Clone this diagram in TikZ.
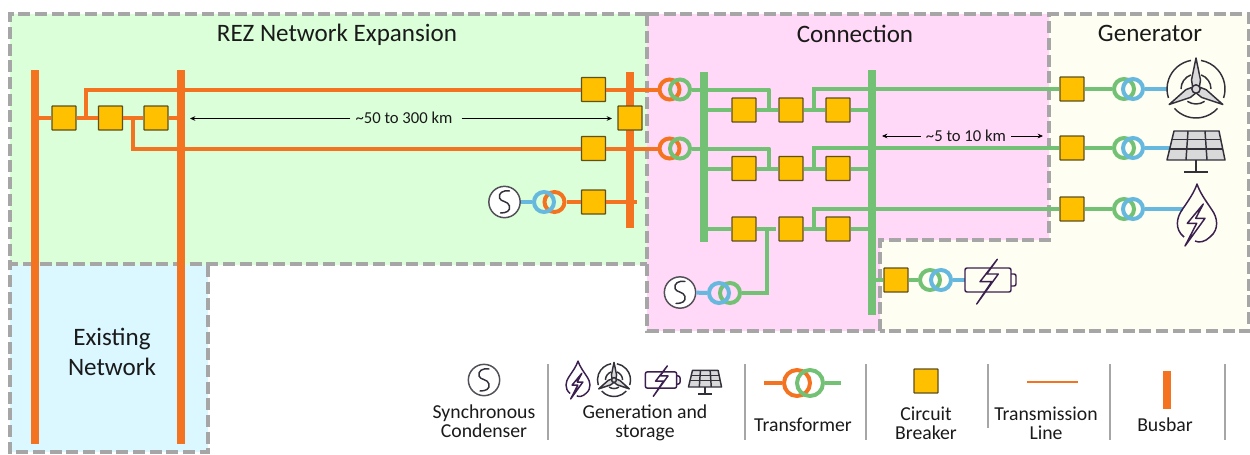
\documentclass[tikz,border=0pt]{standalone}
\usepackage{fontspec}
\setmainfont{Carlito}
\usetikzlibrary{arrows.meta}
\definecolor{orangeL}{HTML}{F47320}
\definecolor{greenL}{HTML}{72C174}
\definecolor{blueL}{HTML}{66B8DE}
\definecolor{cbfill}{HTML}{FFC000}
\definecolor{cbedge}{HTML}{5F5020}
\definecolor{rezbg}{HTML}{DBFFD9}
\definecolor{conbg}{HTML}{FFD9F7}
\definecolor{genbg}{HTML}{FEFFF2}
\definecolor{exbg}{HTML}{DBF7FF}
\definecolor{zone}{HTML}{A6A6A6}
\definecolor{purp}{HTML}{3B1F4F}
\definecolor{darkI}{HTML}{33303A}
\definecolor{txt}{HTML}{1A1A1A}
\tikzset{
 x=0.75pt,y=0.75pt,
 zoneline/.style={draw=zone,line width=3pt,dash pattern=on 9pt off 3.5pt},
 cb/.style={rectangle,draw=cbedge,fill=cbfill,line width=1pt,minimum size=18pt,inner sep=0pt,rounded corners=0.5pt},
 orangeline/.style={draw=orangeL,line width=3pt},
 greenline/.style={draw=greenL,line width=3pt},
 blueline/.style={draw=blueL,line width=3pt},
 ring/.style={circle,line width=3pt,minimum size=15pt,inner sep=0pt},
 busO/.style={rectangle,fill=orangeL,minimum width=6pt,inner sep=0pt},
 busG/.style={rectangle,fill=greenL,minimum width=6pt,inner sep=0pt},
 sc/.style={circle,draw=darkI!85,fill=white,line width=1.1pt,minimum size=23.5pt,inner sep=0pt},
 title/.style={text=txt,font=\fontsize{18.8}{22}\selectfont,inner sep=0pt,align=center},
 legendtxt/.style={text=txt,font=\fontsize{14.8}{14.2}\selectfont,inner sep=0pt,align=center},
 dist/.style={text=txt,font=\fontsize{12.5}{13}\selectfont,inner sep=0pt},
 distarrow/.style={draw=black,line width=0.7pt,-{Stealth[length=4pt,width=3.5pt]}},
 sep/.style={draw=zone,line width=1.6pt},
 pics/sshape/.style={code={\draw[darkI,line width=1.1pt,line cap=round] (5,11) .. controls (-2,12) and (-6,9) .. (-5,4) .. controls (-4,0) and (4,1) .. (5,-4) .. controls (6,-9) and (2,-11) .. (-4,-11);}},
 pics/wind/.style={code={
   \begin{scope}[draw=darkI,line width=1.1pt]
   \draw (100:29) arc[start angle=100,end angle=198,radius=29];
   \draw (222:29) arc[start angle=222,end angle=318,radius=29];
   \draw (342:29) arc[start angle=342,end angle=440,radius=29];
   \draw (110:15) arc[start angle=110,end angle=180,radius=15];
   \draw (235:15) arc[start angle=235,end angle=305,radius=15];
   \draw (0:15) arc[start angle=0,end angle=70,radius=15];
   \foreach \bladeang in {0,120,240}{
    \draw[fill=gray!30,line join=round,rotate=\bladeang] (0,31) -- (4.5,9) -- (3,0) -- (-3,0) -- (-4.5,9) -- cycle;
   }
   \draw[fill=gray!30] (0,0) circle[radius=4.2];
   \end{scope}}},
 pics/solar/.style={code={
   \begin{scope}[draw=darkI,line width=1.1pt,line join=round]
   \draw[fill=gray!30] (-22,15) -- (23,15) -- (29,-14) -- (-29,-14) -- cycle;
   \draw (-25,6.5) -- (25,6.5);
   \draw (-27,-3) -- (27,-3);
   \draw (-8,15) -- (-10,-14);
   \draw (9,15) -- (11,-14);
   \draw (0,-14) -- (0,-26);
   \draw (-12,-26) -- (12,-26);
   \end{scope}}},
 pics/hydro/.style={code={
   \begin{scope}[draw=purp,line width=1.1pt,line join=round]
   \draw (-13,-22) .. controls (-23,-14) and (-20,-2) .. (-15,5) .. controls (-9,14) and (-3,22) .. (0,31) .. controls (3,22) and (9,14) .. (15,5) .. controls (20,-2) and (23,-14) .. (13,-22) .. controls (8,-27) and (2,-28) .. (-2,-26);
   \draw (6.3,11) -- (-9.7,-8.3) -- (-0.3,-8.3) -- (-12,-31) -- (8,-3.3) -- (-1.3,-3.3) -- cycle;
   \end{scope}}},
 pics/battery/.style={code={
   \begin{scope}[draw=purp,line width=1.1pt,line join=round]
   \draw[rounded corners=1.5pt] (-23,12) rectangle (23,-12);
   \draw[rounded corners=1.5pt] (23,6) -- (28,6) -- (28,-6) -- (23,-6);
   \draw[fill=#1] (9.3,20.7) -- (-8,-1.7) -- (3.7,-1.7) -- (-11.3,-24) -- (10.3,6) -- (-1.3,6) -- cycle;
   \end{scope}}},
}
\begin{document}
\begin{tikzpicture}
\useasboundingbox (0,0) rectangle (1250,-454);
% zones
\fill[exbg] (10,-265) rectangle (208,-452);
\fill[rezbg] (10,-14) rectangle (647,-265);
\fill[genbg] (1049,-14) -- (1249,-14) -- (1249,-331) -- (880,-331) -- (880,-240) -- (1049,-240) -- cycle;
\fill[conbg] (647,-14) -- (1049,-14) -- (1049,-240) -- (880,-240) -- (880,-331) -- (647,-331) -- cycle;
\draw[zoneline] (208,-265) -- (208,-452) -- (10,-452) -- (10,-265);
\draw[zoneline] (647,-14) -- (10,-14) -- (10,-264) -- (647,-264);
\draw[zoneline] (647,-14) -- (1249,-14) -- (1249,-331) -- (880,-331);
\draw[zoneline] (647,-14) -- (647,-331) -- (880,-331) -- (880,-240) -- (1049,-240) -- (1049,-14);
% titles
\node[title] (t1) at (337,-35) {REZ Network Expansion};
\node[title] (t2) at (855,-34) {Connection};
\node[title] (t3) at (1150,-33) {Generator};
\node[title] (t4) at (112,-352) {Existing\\[1pt]Network};
% busbars
\node[busO,minimum height=280.5pt] (b1) at (35,-257) {};
\node[busO,minimum height=280.5pt] (b2) at (181,-257) {};
\node[busO,minimum height=117pt] (b3) at (630,-150) {};
\node[busG,minimum height=127.5pt] (b4) at (704,-157) {};
\node[busG,minimum height=183.75pt] (b5) at (872,-192.5) {};
% breakers
\node[cb] (c1) at (64,-118) {};
\node[cb] (c2) at (110.5,-118) {};
\node[cb] (c3) at (156,-118) {};
\node[cb] (c4) at (593.5,-89.5) {};
\node[cb] (c5) at (630,-118) {};
\node[cb] (c6) at (593.5,-148.5) {};
\node[cb] (c7) at (593.5,-202) {};
\foreach \n/\y in {ra/-110,rb/-168.5,rc/-229}{
 \node[cb] (\n1) at (744,\y) {};
 \node[cb] (\n2) at (791,\y) {};
 \node[cb] (\n3) at (838,\y) {};
}
\node[cb] (g1) at (1072,-89) {};
\node[cb] (g2) at (1072,-148) {};
\node[cb] (g3) at (1072,-209) {};
\node[cb] (g4) at (896,-280) {};
% junctions
\coordinate (j1) at (86,-118);
\coordinate (j1t) at (86,-89.5);
\coordinate (j2) at (133,-118);
\coordinate (j2b) at (133,-148.5);
\coordinate (e1) at (637,-202);
\coordinate (k1) at (769,-110);
\coordinate (k1t) at (769,-89);
\coordinate (k2) at (814,-110);
\coordinate (k2t) at (814,-89);
\coordinate (k3) at (769,-168.5);
\coordinate (k3t) at (769,-148);
\coordinate (k4) at (814,-168.5);
\coordinate (k4t) at (814,-148);
\coordinate (k5) at (776,-229);
\coordinate (k5b) at (767,-229);
\coordinate (k5c) at (767,-293);
\coordinate (k6) at (814,-229);
\coordinate (k6t) at (814,-209);
% orange lines
\draw[orangeline] (b1.center |- c1) -- (c1);
\draw[orangeline] (c1) -- (c2);
\draw[orangeline] (c2) -- (c3);
\draw[orangeline] (c3) -- (c3 -| b2);
\draw[orangeline,line join=miter] (j1) -- (j1t) -- (c4);
\draw[orangeline,line join=miter] (j2) -- (j2b) -- (c6);
% transformers and condensers in zones
\node[ring,draw=orangeL] (to1) at (669.5,-89.5) {};
\node[ring,draw=greenL] (tg1) at (680,-89.5) {};
\node[ring,draw=orangeL] (to2) at (669.5,-148.5) {};
\node[ring,draw=greenL] (tg2) at (680,-148.5) {};
\node[ring,draw=orangeL] (to3) at (554.5,-202) {};
\node[ring,draw=blueL] (tb3) at (544,-202) {};
\node[sc] (s1) at (504.5,-202) {};
\pic at (s1.center) {sshape};
\draw[orangeline] (c4) -- (to1);
\draw[orangeline] (c6) -- (to2);
\draw[orangeline] (to3) -- (c7);
\draw[orangeline] (c7) -- (e1);
\draw[blueline] (s1) -- (tb3);
\draw[greenline] (tg1) -- (tg1 -| b4);
\draw[greenline] (tg2) -- (tg2 -| b4);
% green lines
\draw[greenline,line join=round] (tg1 -| b4) -- (k1t |- tg1) -- (k1);
\draw[greenline,line join=round] (tg2 -| b4) -- (k3t |- tg2) -- (k3);
\foreach \n in {ra,rb,rc}{
 \draw[greenline] (\n1 -| b4) -- (\n1);
 \draw[greenline] (\n2) -- (\n3);
 \draw[greenline] (\n3) -- (\n3 -| b5);
}
\draw[greenline] (ra1) -- (ra2);
\draw[greenline] (rb1) -- (rb2);
\draw[greenline] (rc1) -- (k5);
\draw[greenline] (k2) -- (k2t) -- (g1);
\draw[greenline] (k4) -- (k4t) -- (g2);
\draw[greenline] (k6) -- (k6t) -- (g3);
\node[ring,draw=greenL] (tg6) at (730,-293) {};
\node[ring,draw=blueL] (tb6) at (719,-293) {};
\node[sc] (s2) at (680,-292.5) {};
\pic at (s2.center) {sshape};
\draw[greenline,line join=miter] (k5b) -- (k5c) -- (tg6);
\draw[blueline] (s2) -- (tb6);
\draw[greenline] (g4 -| b5) -- (g4);
% generator side
\foreach \i/\y in {1/-89,2/-148,3/-209}{
 \node[ring,draw=greenL] (ug\i) at (1124,\y) {};
 \node[ring,draw=blueL] (ub\i) at (1133,\y) {};
 \draw[greenline] (g\i) -- (ug\i);
}
\node[ring,draw=greenL] (ug4) at (930,-280) {};
\node[ring,draw=blueL] (ub4) at (941,-280) {};
\draw[greenline] (g4) -- (ug4);
\coordinate (ew) at (1167,-89);
\coordinate (es) at (1171,-148);
\coordinate (eh) at (1183,-209);
\coordinate (eb) at (965,-280);
\draw[blueline] (ub1) -- (ew);
\draw[blueline] (ub2) -- (es);
\draw[blueline] (ub3) -- (eh);
\draw[blueline] (ub4) -- (eb);
\pic at (1196,-89) {wind};
\pic at (1196,-146) {solar};
\pic at (1197,-215) {hydro};
\pic at (988,-280) {battery=genbg};
% distances
\node[dist] (d1) at (404,-118) {\textasciitilde50 to 300 km};
\coordinate (d1l) at (190,-118.5);
\coordinate (d1r) at (612,-118.5);
\draw[distarrow] (d1.west |- d1l) ++(-5,0) -- (d1l);
\draw[distarrow] (d1.east |- d1r) ++(9,0) -- (d1r);
\node[dist] (d2) at (966,-135.5) {\textasciitilde5 to 10 km};
\coordinate (d2l) at (882,-136);
\coordinate (d2r) at (1043,-136);
\draw[distarrow] (d2.west |- d2l) ++(-5,0) -- (d2l);
\draw[distarrow] (d2.east |- d2r) ++(5,0) -- (d2r);
% legend
\draw[sep] (548,-364) -- (548,-440);
\draw[sep] (745,-364) -- (745,-440);
\draw[sep] (866,-364) -- (866,-440);
\draw[sep] (988,-364) -- (988,-428);
\draw[sep] (1110,-364) -- (1110,-440);
\draw[sep] (1225,-364) -- (1225,-440);
\node[sc,fill=none] (ls) at (484,-380) {};
\pic at (ls.center) {sshape};
\node[legendtxt] (lt1) at (484,-421.5) {Synchronous\\Condenser};
\pic[scale=0.61] at (578,-380) {hydro};
\pic[scale=0.57] at (614,-380) {wind};
\pic[scale=0.68] at (661,-380) {battery=white};
\pic[scale=0.57] at (705,-379) {solar};
\node[legendtxt] (lt2) at (645,-422.5) {Generation and\\storage};
\node[ring,draw=orangeL,minimum size=19.5pt] (lo) at (797,-383) {};
\node[ring,draw=greenL,minimum size=19.5pt] (lg) at (810,-383) {};
\coordinate (ll) at (764,-383);
\coordinate (lr) at (841,-383);
\draw[orangeline] (ll) -- (lo);
\draw[greenline] (lg) -- (lr);
\node[legendtxt] (lt3) at (803,-425) {Transformer};
\node[cb,line width=1.1pt] (lc) at (926,-381) {};
\node[legendtxt] (lt4) at (926,-423.5) {Circuit\\Breaker};
\coordinate (tl) at (1027,-382);
\coordinate (tr) at (1078,-382);
\draw[draw=orangeL,line width=1.6pt] (tl) -- (tr);
\node[legendtxt] (lt5) at (1046,-423.5) {Transmission\\Line};
\node[busO,minimum height=28.5pt] (lb) at (1167,-390) {};
\node[legendtxt] (lt6) at (1165,-425) {Busbar};
\end{tikzpicture}
\end{document}
